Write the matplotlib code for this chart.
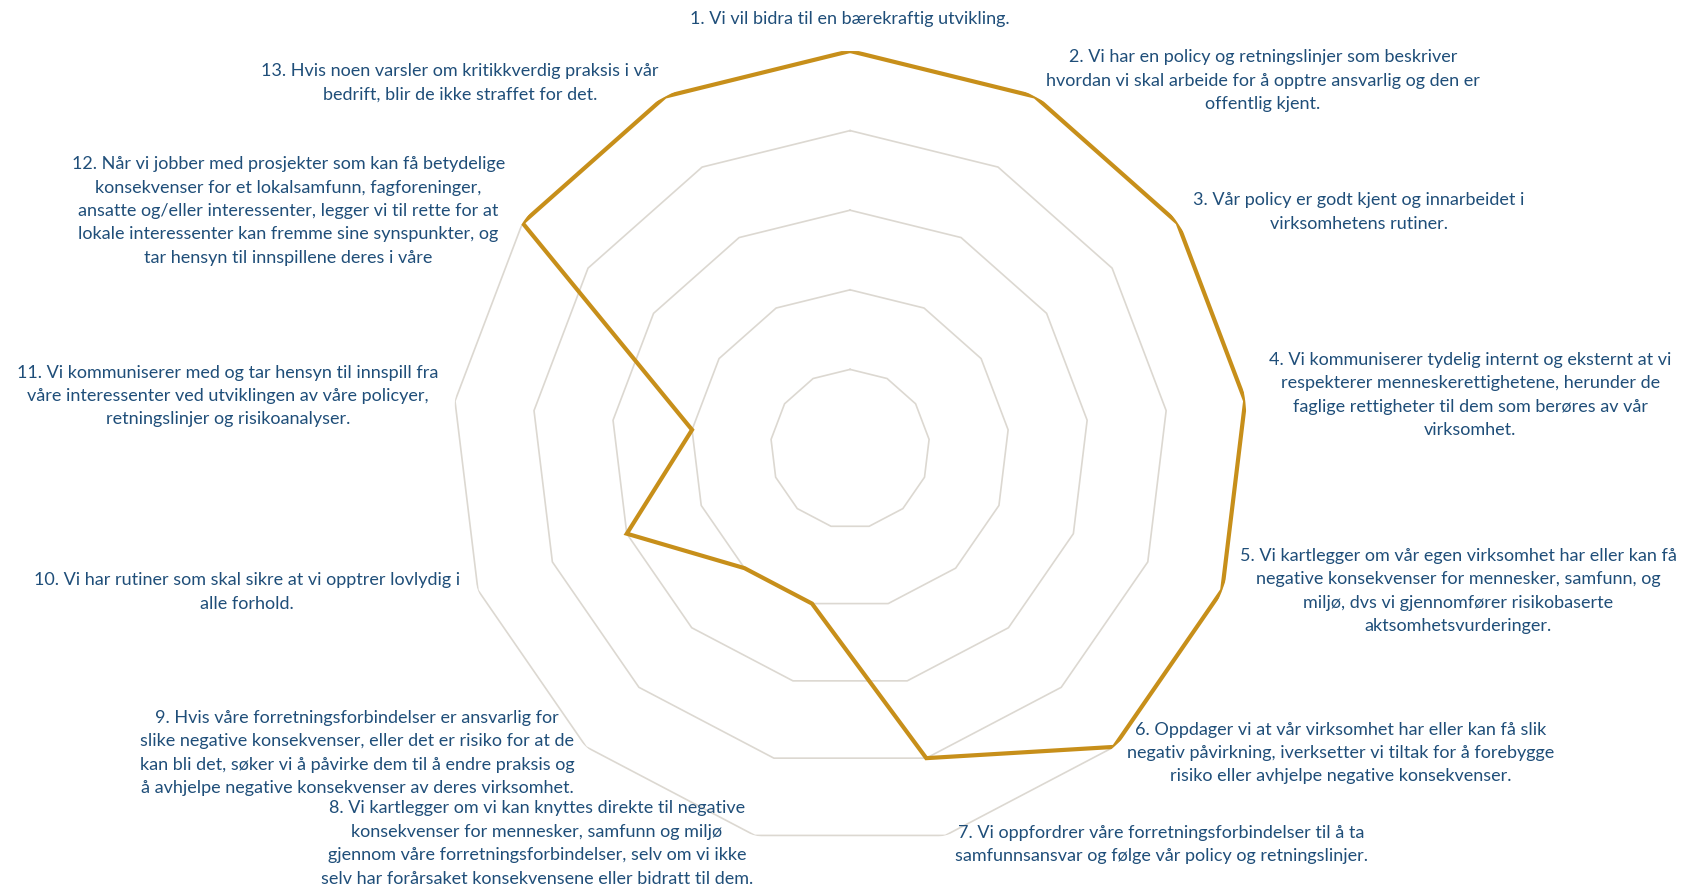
import numpy as np
import matplotlib
matplotlib.use("Agg")
import matplotlib.pyplot as plt

# utsagn (kategorier) og score
utsagn = [
    "1. Vi vil bidra til en bærekraftig utvikling.",
    "2. Vi har en policy og retningslinjer som beskriver\nhvordan vi skal arbeide for å opptre ansvarlig og den er\noffentlig kjent.",
    "3. Vår policy er godt kjent og innarbeidet i\nvirksomhetens rutiner.",
    "4. Vi kommuniserer tydelig internt og eksternt at vi\nrespekterer menneskerettighetene, herunder de\nfaglige rettigheter til dem som berøres av vår\nvirksomhet.",
    "5. Vi kartlegger om vår egen virksomhet har eller kan få\nnegative konsekvenser for mennesker, samfunn, og\nmiljø, dvs vi gjennomfører risikobaserte\naktsomhetsvurderinger.",
    "6. Oppdager vi at vår virksomhet har eller kan få slik\nnegativ påvirkning, iverksetter vi tiltak for å forebygge\nrisiko eller avhjelpe negative konsekvenser.",
    "7. Vi oppfordrer våre forretningsforbindelser til å ta\nsamfunnsansvar og følge vår policy og retningslinjer.",
    "8. Vi kartlegger om vi kan knyttes direkte til negative\nkonsekvenser for mennesker, samfunn og miljø\ngjennom våre forretningsforbindelser, selv om vi ikke\nselv har forårsaket konsekvensene eller bidratt til dem.",
    "9. Hvis våre forretningsforbindelser er ansvarlig for\nslike negative konsekvenser, eller det er risiko for at de\nkan bli det, søker vi å påvirke dem til å endre praksis og\nå avhjelpe negative konsekvenser av deres virksomhet.",
    "10. Vi har rutiner som skal sikre at vi opptrer lovlydig i\nalle forhold.",
    "11. Vi kommuniserer med og tar hensyn til innspill fra\nvåre interessenter ved utviklingen av våre policyer,\nretningslinjer og risikoanalyser.",
    "12. Når vi jobber med prosjekter som kan få betydelige\nkonsekvenser for et lokalsamfunn, fagforeninger,\nansatte og/eller interessenter, legger vi til rette for at\nlokale interessenter kan fremme sine synspunkter, og\ntar hensyn til innspillene deres i våre",
    "13. Hvis noen varsler om kritikkverdig praksis i vår\nbedrift, blir de ikke straffet for det.",
]
score = [5, 5, 5, 5, 5, 5, 4, 2, 2, 3, 2, 5, 5]
ringer = [1, 2, 3, 4, 5]

# forskyvning av etikettene fra spissen av aksen (piksler)
etikett_dx = [0, 228, 181, 225, 236, 227, 216, -218, -229, -231, -227, -234, -205]
etikett_dy = [32, 16, 11, 6, -1, -6, -9, -8, -6, -2, 5, 12, 14]

farge_linje = "#C78F1A"
farge_grid = "#DCD8D1"
farge_tekst = "#1F4E79"

n = len(utsagn)
vinkler = np.linspace(0, 2 * np.pi, n, endpoint=False)
lukket = np.append(vinkler, vinkler[0])

fig = plt.figure(figsize=(16.85, 8.9), dpi=100)
ax = fig.add_axes([0.2683, 0.0483, 0.4724, 0.8944], projection="polar")
ax.set_theta_zero_location("N")
ax.set_theta_direction(-1)
ax.set_ylim(0, 5)
ax.grid(False)
ax.spines["polar"].set_visible(False)
ax.set_xticks([])
ax.set_yticks([])
ax.patch.set_alpha(0)

# polygonale rutenett
for r in ringer:
    ax.plot(lukket, [r] * (n + 1), color=farge_grid, lw=1.2, zorder=1)

verdier = np.append(score, score[0])
ax.plot(lukket, verdier, color=farge_linje, lw=3.0, zorder=3, solid_joinstyle="miter")

for i in range(n):
    ax.annotate(utsagn[i], xy=(vinkler[i], 5), xytext=(etikett_dx[i], etikett_dy[i]),
                textcoords="offset pixels", ha="center", va="center",
                multialignment="center", fontsize=13, family=["Lato", "DejaVu Sans"],
                color=farge_tekst, linespacing=1.57, annotation_clip=False)

fig.savefig("out.png", dpi=100)
